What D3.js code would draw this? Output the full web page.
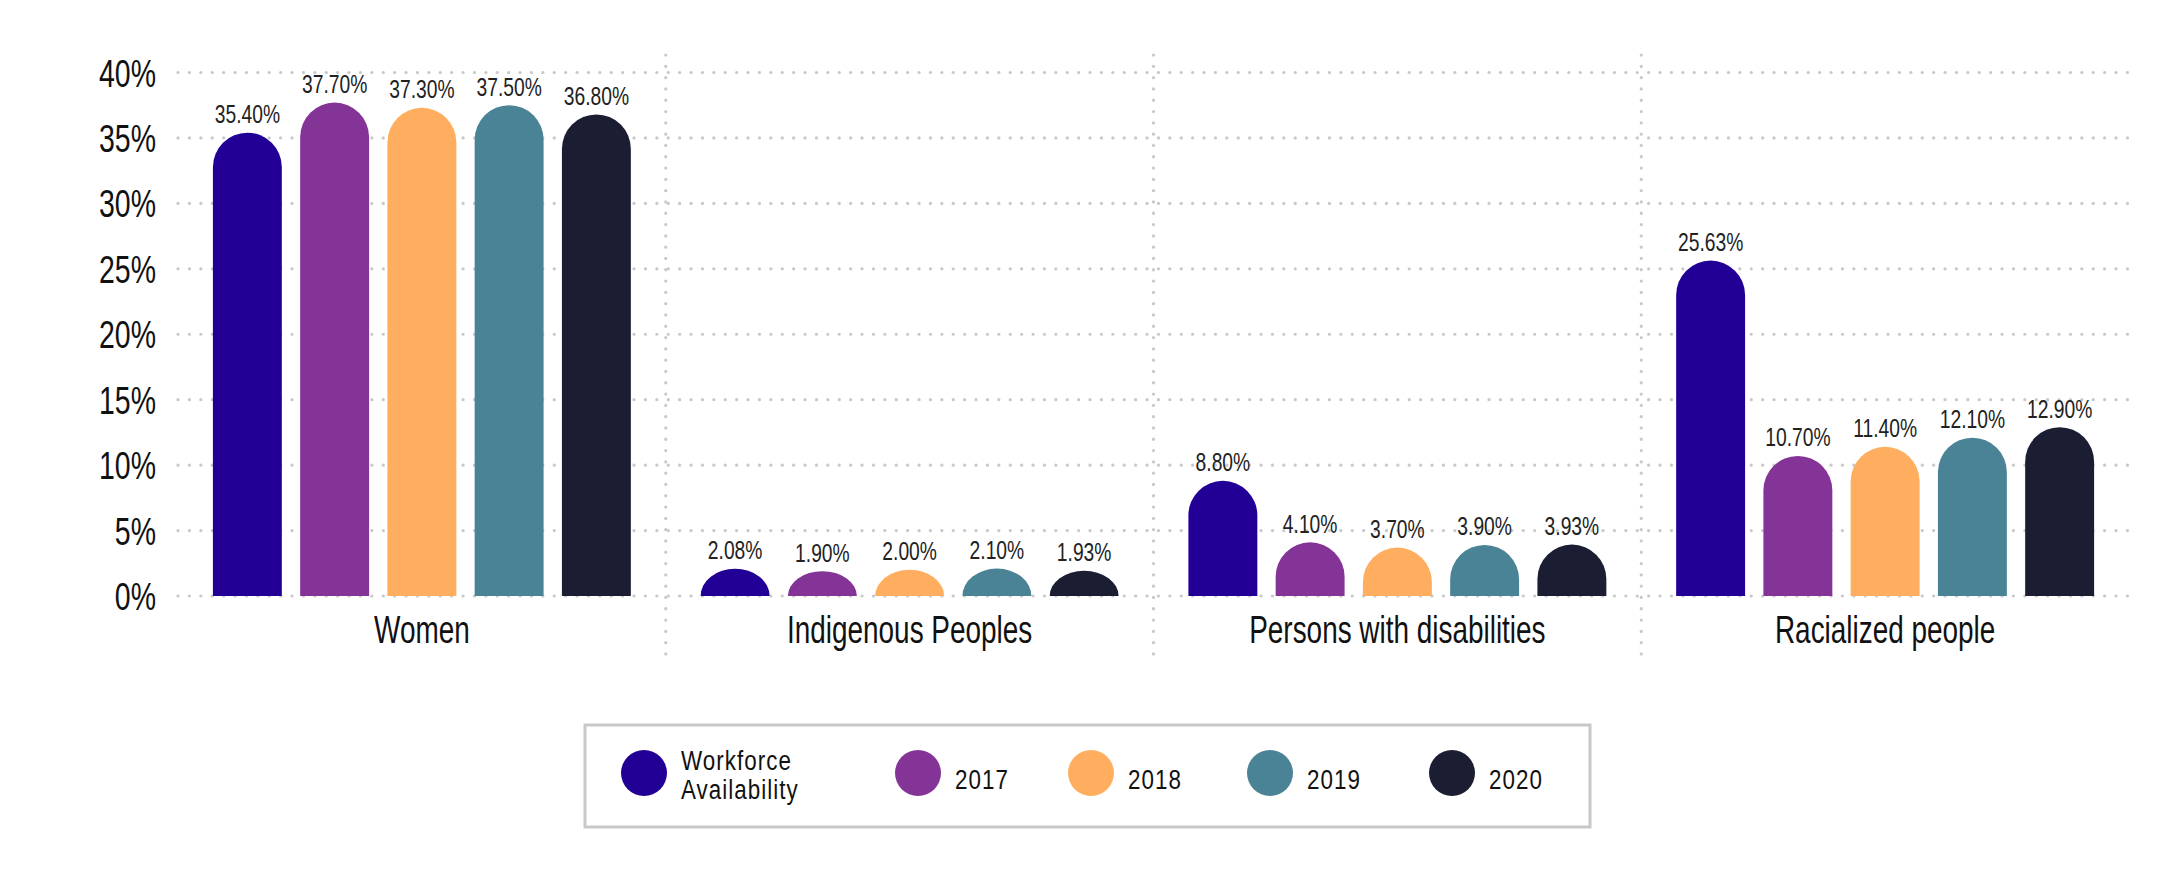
<!DOCTYPE html>
<html>
<head>
<meta charset="utf-8">
<script src="https://cdn.jsdelivr.net/npm/d3@7"></script>
<style>
  html, body { margin: 0; padding: 0; background: #ffffff; }
  svg { display: block; }
  text { font-family: "Liberation Sans", Arial, sans-serif; }
</style>
</head>
<body>
<svg id="chart" width="2174" height="873"></svg>
<script>
// ---- data ----
const categories = ["Women", "Indigenous Peoples", "Persons with disabilities", "Racialized people"];
const seriesNames = ["Workforce Availability", "2017", "2018", "2019", "2020"];
const workforceAvailability = [35.40, 2.08, 8.80, 25.63];
const values2017 = [37.70, 1.90, 4.10, 10.70];
const values2018 = [37.30, 2.00, 3.70, 11.40];
const values2019 = [37.50, 2.10, 3.90, 12.10];
const values2020 = [36.80, 1.93, 3.93, 12.90];
const yTickValues = [0, 5, 10, 15, 20, 25, 30, 35, 40];
const yTickLabels = ["0%", "5%", "10%", "15%", "20%", "25%", "30%", "35%", "40%"];
const seriesColors = ["#230095", "#843396", "#feae5e", "#4a8296", "#1b1d33"];

const seriesValues = [workforceAvailability, values2017, values2018, values2019, values2020];

// ---- layout ----
const W = 2174, H = 873;
const plotLeft = 178, plotRight = 2129, plotTop = 72.5, plotBottom = 596;
const gridColor = "#c9c9c9";

const svg = d3.select("#chart");
svg.append("rect").attr("width", W).attr("height", H).attr("fill", "#fff");

const y = d3.scaleLinear().domain([0, 40]).range([plotBottom, plotTop]);
const x0 = d3.scaleBand().domain(categories).range([plotLeft, plotRight]).padding(0);
const x1 = d3.scaleBand().domain(seriesNames).range([0, x0.bandwidth()])
  .paddingInner(0.21).paddingOuter(0.4);
const color = d3.scaleOrdinal().domain(seriesNames).range(seriesColors);

// condensed look: horizontal scaling of real text
function condensedText(sel, sx) {
  sel.attr("transform", function() {
    const tx = +this.getAttribute("data-x"), ty = +this.getAttribute("data-y");
    return `translate(${tx},${ty}) scale(${sx},1)`;
  });
}

// ---- horizontal dotted gridlines ----
const grid = svg.append("g");
grid.selectAll("line.h").data(yTickValues).join("line")
  .attr("class", "h")
  .attr("x1", plotLeft).attr("x2", plotRight)
  .attr("y1", d => y(d)).attr("y2", d => y(d))
  .attr("stroke", gridColor).attr("stroke-width", 3.2)
  .attr("stroke-linecap", "round").attr("stroke-dasharray", "0.1,11.3");

// vertical dividers between categories
grid.selectAll("line.v").data(categories.slice(1)).join("line")
  .attr("class", "v")
  .attr("x1", d => x0(d)).attr("x2", d => x0(d))
  .attr("y1", 55).attr("y2", 663)
  .attr("stroke", gridColor).attr("stroke-width", 3.2)
  .attr("stroke-linecap", "round").attr("stroke-dasharray", "0.1,11.2");

// ---- y axis labels ----
svg.append("g").selectAll("text").data(yTickValues).join("text")
  .attr("data-x", 156).attr("data-y", d => y(d) + 14)
  .attr("text-anchor", "end")
  .attr("font-size", 39).attr("fill", "#111")
  .text((d, i) => yTickLabels[i])
  .call(condensedText, 0.73);

// ---- bars ----
function barPath(x, w, yTop, yBase) {
  const rx = w / 2;
  const ry = Math.min(rx, yBase - yTop);
  return `M${x},${yBase} V${yTop + ry} A${rx},${ry} 0 0 1 ${x + w},${yTop + ry} V${yBase} Z`;
}

const rows = categories.map((c, ci) => ({
  category: c,
  items: seriesNames.map((s, si) => ({ category: c, series: s, value: seriesValues[si][ci] }))
}));

const groups = svg.append("g").selectAll("g").data(rows).join("g")
  .attr("transform", d => `translate(${x0(d.category)},0)`);

groups.selectAll("path").data(d => d.items).join("path")
  .attr("d", d => barPath(x1(d.series), x1.bandwidth(), y(d.value), y(0)))
  .attr("fill", d => color(d.series));

const fmt = d3.format(".2f");
groups.selectAll("text").data(d => d.items).join("text")
  .attr("data-x", d => x1(d.series) + x1.bandwidth() / 2)
  .attr("data-y", d => y(d.value) - 9.5)
  .attr("text-anchor", "middle")
  .attr("font-size", 25).attr("fill", "#222")
  .text(d => fmt(d.value) + "%")
  .call(condensedText, 0.77);

// ---- category labels ----
svg.append("g").selectAll("text").data(categories).join("text")
  .attr("data-x", d => x0(d) + x0.bandwidth() / 2)
  .attr("data-y", 643)
  .attr("text-anchor", "middle")
  .attr("font-size", 38).attr("fill", "#111")
  .text(d => d)
  .call(condensedText, 0.735);

// ---- legend ----
const legend = svg.append("g");
legend.append("rect")
  .attr("x", 585).attr("y", 725).attr("width", 1005).attr("height", 102)
  .attr("fill", "#fff").attr("stroke", "#c8c8c8").attr("stroke-width", 3);

const legendCx = [644, 918, 1091, 1270, 1452];
const legendCy = 773;
const items = legend.selectAll("g.item").data(seriesNames).join("g")
  .attr("class", "item")
  .attr("transform", (d, i) => `translate(${legendCx[i]},${legendCy})`);
items.append("circle").attr("r", 23).attr("fill", d => color(d));
items.each(function(d) {
  const g = d3.select(this);
  const lines = d === "Workforce Availability" ? [["Workforce", -3], ["Availability", 26]] : [[d, 16]];
  lines.forEach(([txt, dy]) => {
    g.append("text")
      .attr("transform", `translate(37,${dy}) scale(0.8,1)`)
      .attr("font-size", 28).attr("fill", "#111")
      .attr("letter-spacing", 1.3)
      .text(txt);
  });
});
</script>
</body>
</html>
